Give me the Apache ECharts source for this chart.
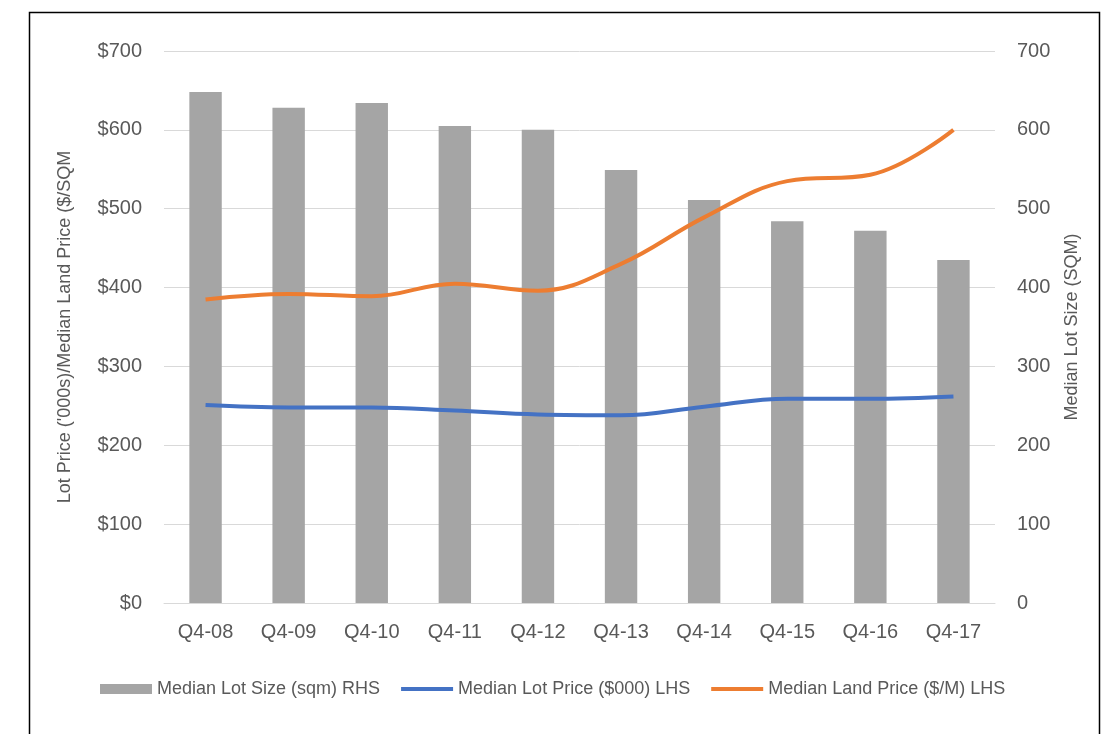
<!DOCTYPE html>
<html>
<head>
<meta charset="utf-8">
<script src="https://cdn.jsdelivr.net/npm/echarts@6/dist/echarts.min.js"></script>
<style>
html,body{margin:0;padding:0;background:#fff;}
#chart{width:1103px;height:734px;}
</style>
</head>
<body>
<div id="chart"></div>
<script>
const categories = ['Q4-08','Q4-09','Q4-10','Q4-11','Q4-12','Q4-13','Q4-14','Q4-15','Q4-16','Q4-17'];
const lotSize = [648, 628, 634, 605, 600, 549, 511, 484, 472, 435];
const lotPrice = [251, 248, 248, 244, 239, 238, 249, 259, 259, 262];
const landPrice = [385, 392, 389, 405, 396, 430, 489, 535, 543, 600];
const leftTicks = {min: 0, max: 700, interval: 100};
const rightTicks = {min: 0, max: 700, interval: 100};

const FONT = 'Liberation Sans, Arial, sans-serif';
const TXT = '#595959';
const LINE_ICON = 'path://M0,0L55,0L55,4L0,4Z';
const chart = echarts.init(document.getElementById('chart'));
chart.setOption({
  animation: false,
  textStyle: {fontFamily: FONT},
  graphic: [{
    type: 'rect', silent: true,
    shape: {x: 29.5, y: 12.5, width: 1070, height: 800},
    style: {fill: 'none', stroke: '#000', lineWidth: 1.5}
  }],
  grid: {left: 164, right: 108, top: 51, bottom: 131, containLabel: false},
  legend: {
    left: 95, top: 675,
    itemGap: 21, itemWidth: 52, itemHeight: 10,
    textStyle: {fontSize: 18, color: TXT, fontFamily: FONT},
    data: [
      {name: 'Median Lot Size (sqm) RHS', icon: 'rect'},
      {name: 'Median Lot Price ($000) LHS', icon: LINE_ICON},
      {name: 'Median Land Price ($/M) LHS', icon: LINE_ICON}
    ]
  },
  xAxis: {
    type: 'category', data: categories,
    axisLine: {lineStyle: {color: '#d9d9d9', width: 1}},
    axisTick: {show: false},
    axisLabel: {color: TXT, fontSize: 20, margin: 19}
  },
  yAxis: [{
    type: 'value', position: 'left',
    min: leftTicks.min, max: leftTicks.max, interval: leftTicks.interval,
    name: "Lot Price ('000s)/Median Land Price ($/SQM",
    nameLocation: 'middle', nameGap: 90, nameRotate: 90,
    nameTextStyle: {color: TXT, fontSize: 18},
    axisLine: {show: false}, axisTick: {show: false},
    axisLabel: {color: TXT, fontSize: 20, margin: 22, formatter: v => '$' + v},
    splitLine: {lineStyle: {color: '#d9d9d9', width: 1}}
  }, {
    type: 'value', position: 'right',
    min: rightTicks.min, max: rightTicks.max, interval: rightTicks.interval,
    name: 'Median Lot Size (SQM)',
    nameLocation: 'middle', nameGap: 68, nameRotate: 90,
    nameTextStyle: {color: TXT, fontSize: 18},
    axisLine: {show: false}, axisTick: {show: false},
    axisLabel: {color: TXT, fontSize: 20, margin: 22},
    splitLine: {show: false}
  }],
  series: [{
    name: 'Median Lot Size (sqm) RHS', type: 'bar', yAxisIndex: 1,
    data: lotSize, barWidth: '39%',
    itemStyle: {color: '#a5a5a5'}
  }, {
    name: 'Median Lot Price ($000) LHS', type: 'line', yAxisIndex: 0,
    data: lotPrice, smooth: 0.4, symbol: 'none',
    lineStyle: {color: '#4472c4', width: 4},
    itemStyle: {color: '#4472c4'}
  }, {
    name: 'Median Land Price ($/M) LHS', type: 'line', yAxisIndex: 0,
    data: landPrice, smooth: 0.4, symbol: 'none',
    lineStyle: {color: '#ed7d31', width: 4},
    itemStyle: {color: '#ed7d31'}
  }]
});
</script>
</body>
</html>
